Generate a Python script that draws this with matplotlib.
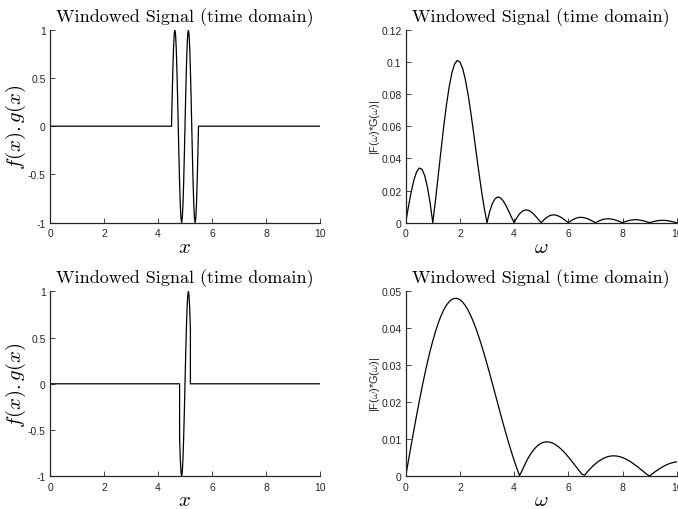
import matplotlib
matplotlib.use("Agg")
import matplotlib.pyplot as plt

plt.rcParams['font.family'] = ['Liberation Sans', 'DejaVu Sans']
plt.rcParams['mathtext.fontset'] = 'cm'

# ---------------- data ----------------
title_text = "Windowed Signal (time domain)"

# top-left: windowed signal, window ~[4.5, 5.5]
t1_x = [0.0, 4.5, 4.525, 4.55, 4.575, 4.6, 4.625, 4.65, 4.675, 4.7, 4.725,
        4.75, 4.775, 4.8, 4.825, 4.85, 4.875, 4.9, 4.925, 4.95, 4.975,
        5.0, 5.025, 5.05, 5.075, 5.1, 5.125, 5.15, 5.175, 5.2, 5.225,
        5.25, 5.275, 5.3, 5.325, 5.35, 5.375, 5.4, 5.425, 5.45, 5.475,
        5.5, 10.0]
t1_y = [0, 0, 0.309, 0.588, 0.809, 0.951, 1, 0.951, 0.809, 0.588, 0.309,
        0, -0.309, -0.588, -0.809, -0.951, -1, -0.951, -0.809, -0.588, -0.309,
        0, 0.309, 0.588, 0.809, 0.951, 1, 0.951, 0.809, 0.588, 0.309,
        0, -0.309, -0.588, -0.809, -0.951, -1, -0.951, -0.809, -0.588, -0.309,
        0, 0]

# bottom-left: windowed signal, window ~[4.8, 5.2]
t2_x = [0.0, 4.8, 4.8, 4.825, 4.85, 4.875, 4.9, 4.925, 4.95, 4.975, 5.0,
        5.025, 5.05, 5.075, 5.1, 5.125, 5.15, 5.175, 5.2, 5.2, 10.0]
t2_y = [0, 0, -0.588, -0.809, -0.951, -1, -0.951, -0.809, -0.588, -0.309, 0,
        0.309, 0.588, 0.809, 0.951, 1, 0.951, 0.809, 0.588, 0, 0]

# frequency grid (omega)
w = [0.0, 0.1, 0.2, 0.3, 0.4, 0.5, 0.6, 0.7, 0.8, 0.9,
     1.0, 1.1, 1.2, 1.3, 1.4, 1.5, 1.6, 1.7, 1.8, 1.9,
     2.0, 2.1, 2.2, 2.3, 2.4, 2.5, 2.6, 2.7, 2.8, 2.9,
     3.0, 3.1, 3.2, 3.3, 3.4, 3.5, 3.6, 3.7, 3.8, 3.9,
     4.0, 4.1, 4.2, 4.3, 4.4, 4.5, 4.6, 4.7, 4.8, 4.9,
     5.0, 5.1, 5.2, 5.3, 5.4, 5.5, 5.6, 5.7, 5.8, 5.9,
     6.0, 6.1, 6.2, 6.3, 6.4, 6.5, 6.6, 6.7, 6.8, 6.9,
     7.0, 7.1, 7.2, 7.3, 7.4, 7.5, 7.6, 7.7, 7.8, 7.9,
     8.0, 8.1, 8.2, 8.3, 8.4, 8.5, 8.6, 8.7, 8.8, 8.9,
     9.0, 9.1, 9.2, 9.3, 9.4, 9.5, 9.6, 9.7, 9.8, 9.9,
     10.0]

# top-right spectrum |F(w)*G(w)|
sp1 = [0, 0.00986, 0.01890, 0.02634, 0.03153, 0.03395, 0.03327, 0.02935, 0.02227, 0.01233,
       0, 0.01410, 0.02923, 0.04459, 0.05936, 0.07275, 0.08409, 0.09280, 0.09847, 0.10088,
       0.1, 0.09596, 0.08909, 0.07985, 0.06880, 0.05659, 0.04387, 0.03131, 0.01949, 0.00892,
       0, 0.00701, 0.01199, 0.01495, 0.01602, 0.01543, 0.01351, 0.01063, 0.00717, 0.00351,
       0, 0.00307, 0.00549, 0.00711, 0.00788, 0.00784, 0.00706, 0.00569, 0.00393, 0.00197,
       0, 0.00179, 0.00325, 0.00428, 0.00481, 0.00485, 0.00443, 0.00362, 0.00252, 0.00128,
       0, 0.00118, 0.00217, 0.00289, 0.00328, 0.00333, 0.00306, 0.00252, 0.00177, 0.00090,
       0, 0.00085, 0.00156, 0.00209, 0.00239, 0.00244, 0.00225, 0.00186, 0.00132, 0.00067,
       0, 0.00064, 0.00118, 0.00159, 0.00182, 0.00187, 0.00173, 0.00144, 0.00102, 0.00052,
       0, 0.00050, 0.00093, 0.00125, 0.00144, 0.00148, 0.00137, 0.00114, 0.00081, 0.00042,
       0]

# bottom-right spectrum |F(w)*G(w)|
sp2 = [0, 0.00417, 0.00830, 0.01237, 0.01634, 0.02018, 0.02387, 0.02737, 0.03066, 0.03371,
       0.03651, 0.03903, 0.04126, 0.04318, 0.04479, 0.04607, 0.04702, 0.04764, 0.04794, 0.04791,
       0.04757, 0.04692, 0.04598, 0.04476, 0.04329, 0.04158, 0.03965, 0.03753, 0.03524, 0.03282,
       0.03027, 0.02764, 0.02495, 0.02223, 0.01949, 0.01678, 0.01411, 0.01151, 0.00899, 0.00659,
       0.00431, 0.00218, 0.00020, 0.00160, 0.00322, 0.00466, 0.00590, 0.00694, 0.00779, 0.00845,
       0.00891, 0.00919, 0.00929, 0.00923, 0.00901, 0.00865, 0.00816, 0.00756, 0.00686, 0.00608,
       0.00523, 0.00434, 0.00341, 0.00247, 0.00152, 0.00060, 0.00030, 0.00116, 0.00196, 0.00270,
       0.00336, 0.00395, 0.00444, 0.00485, 0.00516, 0.00537, 0.00549, 0.00551, 0.00544, 0.00529,
       0.00505, 0.00473, 0.00435, 0.00391, 0.00341, 0.00288, 0.00231, 0.00172, 0.00112, 0.00052,
       0.00008, 0.00066, 0.00121, 0.00173, 0.00220, 0.00263, 0.00301, 0.00333, 0.00358, 0.00377,
       0.00390]

x_ticks = [0, 2, 4, 6, 8, 10]
x_ticklabels = ['0', '2', '4', '6', '8', '10']
time_yticks = [-1, -0.5, 0, 0.5, 1]
time_yticklabels = ['-1', '-0.5', '0', '0.5', '1']
sp1_yticks = [0, 0.02, 0.04, 0.06, 0.08, 0.1, 0.12]
sp1_yticklabels = ['0', '0.02', '0.04', '0.06', '0.08', '0.1', '0.12']
sp2_yticks = [0, 0.01, 0.02, 0.03, 0.04, 0.05]
sp2_yticklabels = ['0', '0.01', '0.02', '0.03', '0.04', '0.05']

time_ylabel = r'$f(x).g(x)$'
time_xlabel = r'$x$'
freq_ylabel = r'|F($\omega$)*G($\omega$)|'
freq_xlabel = r'$\omega$'

# ---------------- figure ----------------
W, H = 678, 510
fig = plt.figure(figsize=(W / 100, H / 100), dpi=100)

def px_axes(left, top, right, bottom):
    return fig.add_axes([left / W, 1 - bottom / H, (right - left) / W, (bottom - top) / H])

ax_tl = px_axes(50, 30.7, 320, 223.7)
ax_tr = px_axes(405.7, 30.7, 676.7, 223.7)
ax_bl = px_axes(50, 292.3, 320, 477.3)
ax_br = px_axes(405.7, 291.7, 676.7, 477.3)

gray = '#262626'

def style(ax, yticks, yticklabels, ylim):
    for s in ['top', 'right']:
        ax.spines[s].set_visible(False)
    for s in ['left', 'bottom']:
        ax.spines[s].set_color(gray)
        ax.spines[s].set_linewidth(0.9)
    ax.set_xlim(0, 10)
    ax.set_ylim(*ylim)
    ax.set_xticks(x_ticks)
    ax.set_xticklabels(x_ticklabels)
    ax.set_yticks(yticks)
    ax.set_yticklabels(yticklabels)
    ax.tick_params(direction='in', length=3.5, width=0.6, colors=gray,
                   labelsize=7.5)
    ax.tick_params(axis='x', pad=4)
    ax.tick_params(axis='y', pad=3)
    ax.set_title(title_text, fontfamily='cmr10', fontsize=13, pad=6.5, color='black')

ax_tl.plot(t1_x, t1_y, color='black', lw=0.9)
style(ax_tl, time_yticks, time_yticklabels, (-1, 1))
ax_bl.plot(t2_x, t2_y, color='black', lw=0.9)
style(ax_bl, time_yticks, time_yticklabels, (-1, 1))
ax_tr.plot(w, sp1, color='black', lw=0.9)
style(ax_tr, sp1_yticks, sp1_yticklabels, (0, 0.12))
ax_br.plot(w, sp2, color='black', lw=0.9)
style(ax_br, sp2_yticks, sp2_yticklabels, (0, 0.05))

for ax in (ax_tl, ax_bl):
    ax.set_ylabel(time_ylabel, fontsize=15)
    ax.yaxis.set_label_coords(-0.083, 0.5)
    ax.set_xlabel(time_xlabel, fontsize=15, labelpad=-1)
for ax in (ax_tr, ax_br):
    ax.set_ylabel(freq_ylabel, fontsize=8, color=gray)
    ax.yaxis.set_label_coords(-0.088, 0.5)
    ax.set_xlabel(freq_xlabel, fontsize=15, labelpad=-1)

fig.savefig('out.png', dpi=100)
